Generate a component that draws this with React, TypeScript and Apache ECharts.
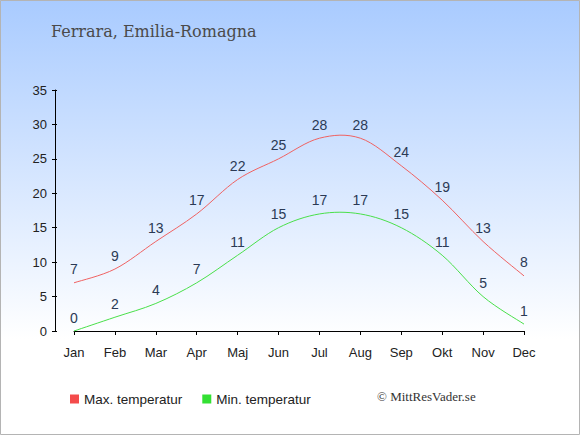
import React, { useEffect, useRef } from "react";
import * as echarts from "echarts";

const months = ["Jan", "Feb", "Mar", "Apr", "Maj", "Jun", "Jul", "Aug", "Sep", "Okt", "Nov", "Dec"];
const maxTemp = [7, 9, 13, 17, 22, 25, 28, 28, 24, 19, 13, 8];
const minTemp = [0, 2, 4, 7, 11, 15, 17, 17, 15, 11, 5, 1];
const yMin = 0;
const yMax = 35;
const yStep = 5;
const title = "Ferrara, Emilia-Romagna";
const maxName = "Max. temperatur";
const minName = "Min. temperatur";
const credit = "© MittResVader.se";

const FONT = "Liberation Sans, Arial, sans-serif";

function curveSeries(values: number[], color: string) {
  return {
    type: "custom",
    name: "curve-" + color,
    silent: true,
    data: values.map((v, i) => [i, v]),
    renderItem: (params: any, api: any) => {
      const i = params.dataIndex;
      const n = values.length;
      if (i >= n - 1) return null;
      const pt = (k: number) => {
        const kk = Math.max(0, Math.min(n - 1, k));
        return api.coord([kk, values[kk]]);
      };
      const p0 = pt(i - 1);
      const p1 = pt(i);
      const p2 = pt(i + 1);
      const p3 = pt(i + 2);
      return {
        type: "bezierCurve",
        shape: {
          x1: p1[0],
          y1: p1[1],
          cpx1: p1[0] + (p2[0] - p0[0]) / 6,
          cpy1: p1[1] + (p2[1] - p0[1]) / 6,
          cpx2: p2[0] - (p3[0] - p1[0]) / 6,
          cpy2: p2[1] - (p3[1] - p1[1]) / 6,
          x2: p2[0],
          y2: p2[1],
        },
        style: { fill: "none", stroke: color, lineWidth: 1 },
      };
    },
  };
}

export default function App() {
  const ref = useRef<HTMLDivElement>(null);
  useEffect(() => {
    document.body.style.margin = "0";
    const chart = echarts.init(ref.current!, null, { renderer: "svg" });
    const labelStyle = {
      show: true,
      position: "top",
      distance: 6,
      color: "#2b3a55",
      fontSize: 14,
      fontFamily: FONT,
    };
    chart.setOption({
      animation: false,
      backgroundColor: {
        type: "linear",
        x: 0, y: 0, x2: 0, y2: 1,
        colorStops: [
          { offset: 0, color: "#a9cbff" },
          { offset: 0.78, color: "#ffffff" },
          { offset: 1, color: "#ffffff" },
        ],
      },
      graphic: [
        {
          type: "rect",
          shape: { x: 0.5, y: 0.5, width: 579, height: 434 },
          style: { fill: "none", stroke: "#b4b4b4", lineWidth: 1 },
          silent: true,
          z: 100,
        },
        {
          type: "text",
          left: 51,
          top: 23,
          style: {
            text: title,
            fontFamily: "DejaVu Serif",
            fontSize: 16,
            fill: "#4a4a4a",
          },
        },
        {
          type: "text",
          left: 377,
          top: 390,
          style: {
            text: credit,
            fontFamily: "Liberation Serif",
            fontSize: 13,
            fill: "#333333",
          },
        },
      ],
      legend: {
        left: 65,
        top: 387,
        itemWidth: 9,
        itemHeight: 9,
        itemGap: 20,
        icon: "rect",
        textStyle: { fontSize: 13.5, color: "#222", fontFamily: FONT },
        data: [
          { name: maxName, itemStyle: { color: "#f44b4b" } },
          { name: minName, itemStyle: { color: "#33e033" } },
        ],
      },
      grid: { left: 74, right: 56, top: 90, bottom: 104 },
      xAxis: {
        type: "category",
        data: months,
        boundaryGap: false,
        offset: 8,
        axisLine: { lineStyle: { color: "#000", width: 1 } },
        axisTick: { length: 4, alignWithLabel: true, lineStyle: { color: "#000" } },
        axisLabel: { margin: 7, fontSize: 13, color: "#222", fontFamily: FONT },
        splitLine: { show: false },
      },
      yAxis: [
        {
          type: "value",
          min: yMin,
          max: yMax,
          interval: yStep,
          offset: 19,
          axisLine: { show: true, lineStyle: { color: "#000", width: 1 } },
          axisTick: { show: true, length: 3, lineStyle: { color: "#000" } },
          axisLabel: { margin: 8, fontSize: 13, color: "#222", fontFamily: FONT },
          splitLine: { show: false },
        },
        {
          type: "value",
          position: "left",
          min: yMin,
          max: yMax,
          interval: yStep,
          offset: 19,
          axisLine: { show: false },
          axisTick: { show: true, inside: true, length: 2, lineStyle: { color: "#000" } },
          axisLabel: { show: false },
          splitLine: { show: false },
        },
      ],
      series: [
        curveSeries(maxTemp, "#f06262"),
        curveSeries(minTemp, "#4ae04a"),
        {
          name: maxName,
          type: "line",
          data: maxTemp,
          showSymbol: true,
          symbol: "circle",
          symbolSize: 1,
          itemStyle: { color: "rgba(0,0,0,0)" },
          lineStyle: { opacity: 0, width: 0 },
          label: labelStyle,
        },
        {
          name: minName,
          type: "line",
          data: minTemp,
          showSymbol: true,
          symbol: "circle",
          symbolSize: 1,
          itemStyle: { color: "rgba(0,0,0,0)" },
          lineStyle: { opacity: 0, width: 0 },
          label: labelStyle,
        },
      ],
    });
    return () => chart.dispose();
  }, []);
  return <div ref={ref} style={{ width: 580, height: 435 }} />;
}
